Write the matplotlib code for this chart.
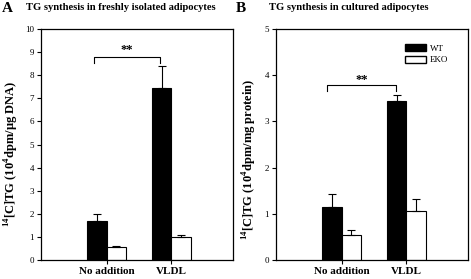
import numpy as np
import matplotlib.pyplot as plt
from matplotlib.patches import Patch

plt.rcParams['font.family'] = ['Liberation Serif', 'DejaVu Serif']
plt.rcParams['mathtext.fontset'] = 'custom'
plt.rcParams['mathtext.rm'] = 'Liberation Serif:bold'
plt.rcParams['mathtext.bf'] = 'Liberation Serif:bold'

categories = ['No addition', 'VLDL']
groups = ['WT', 'EKO']

# panel A: freshly isolated adipocytes
a_wt = [1.70, 7.45]
a_wt_err = [0.30, 0.95]
a_eko = [0.57, 1.00]
a_eko_err = [0.02, 0.07]

# panel B: cultured adipocytes
b_wt = [1.15, 3.45]
b_wt_err = [0.28, 0.12]
b_eko = [0.55, 1.07]
b_eko_err = [0.09, 0.26]

W, H = 471, 279
fig = plt.figure(figsize=(W / 100, H / 100), dpi=100)


def panel(rect, wt, wt_err, eko, eko_err, ymax, ylabel, label_xy, sig):
    ax = fig.add_axes(rect)
    x = np.arange(len(categories))
    w = 0.3
    ax.bar(x - w / 2, wt, w, color='black', edgecolor='black', linewidth=0.8)
    ax.bar(x + w / 2, eko, w, color='white', edgecolor='black', linewidth=0.8)
    ax.errorbar(x - w / 2, wt, yerr=[np.zeros(len(wt)), wt_err], fmt='none',
                ecolor='black', elinewidth=0.8, capsize=3, capthick=0.8)
    ax.errorbar(x + w / 2, eko, yerr=[np.zeros(len(eko)), eko_err], fmt='none',
                ecolor='black', elinewidth=0.8, capsize=3, capthick=0.8)
    ax.set_xlim(-1.015, 1.95)
    ax.set_ylim(0, ymax)
    ax.set_yticks(np.arange(0, ymax + 1))
    ax.set_xticks(x)
    ax.set_xticklabels(categories, fontsize=8, fontweight='bold')
    ax.tick_params(axis='y', labelsize=6.5, length=3, width=0.8, direction='out', pad=2)
    ax.tick_params(axis='x', length=3, width=0.8, direction='out', pad=2)
    for s in ax.spines.values():
        s.set_linewidth(0.9)
    ax.set_ylabel(ylabel, fontsize=9, fontweight='bold')
    ax.yaxis.set_label_coords(*label_xy)
    x0, x1, ytop, ylow, ystar = sig
    ax.plot([x0, x0, x1, x1], [ylow, ytop, ytop, ylow], color='black', lw=0.8)
    ax.text((x0 + x1) / 2, ystar, '**', ha='center', va='center', fontsize=9, fontweight='bold')
    return ax


axA = panel([41 / W, 19 / H, 192 / W, 231 / H], a_wt, a_wt_err, a_eko, a_eko_err, 10,
            r'$^{14}$[C]TG (10$^{4}$dpm/μg DNA)', (-0.105, 0.46),
            (-0.2, 0.83, 8.79, 8.53, 9.1))
axB = panel([276 / W, 19 / H, 192 / W, 231 / H], b_wt, b_wt_err, b_eko, b_eko_err, 5,
            r'$^{14}$[C]TG (10$^{4}$dpm/mg protein)', (-0.09, 0.435),
            (-0.22, 0.84, 3.78, 3.65, 3.9))

axB.legend(handles=[Patch(facecolor='black', edgecolor='black', label='WT'),
                    Patch(facecolor='white', edgecolor='black', label='EKO')],
           loc='upper right', bbox_to_anchor=(0.94, 0.97), frameon=False, fontsize=6.5,
           handlelength=2.4, handleheight=0.8, handletextpad=0.4, labelspacing=0.35)

fig.text(2 / W, 1 - 8 / H, 'A', fontsize=11, fontweight='bold', va='center', ha='left')
fig.text(26 / W, 1 - 8 / H, 'TG synthesis in freshly isolated adipocytes', fontsize=7.6,
         fontweight='bold', va='center', ha='left')
fig.text(236 / W, 1 - 8 / H, 'B', fontsize=11, fontweight='bold', va='center', ha='left')
fig.text(269 / W, 1 - 8 / H, 'TG synthesis in cultured adipocytes', fontsize=7.6,
         fontweight='bold', va='center', ha='left')

fig.savefig('out.png', dpi=100)
